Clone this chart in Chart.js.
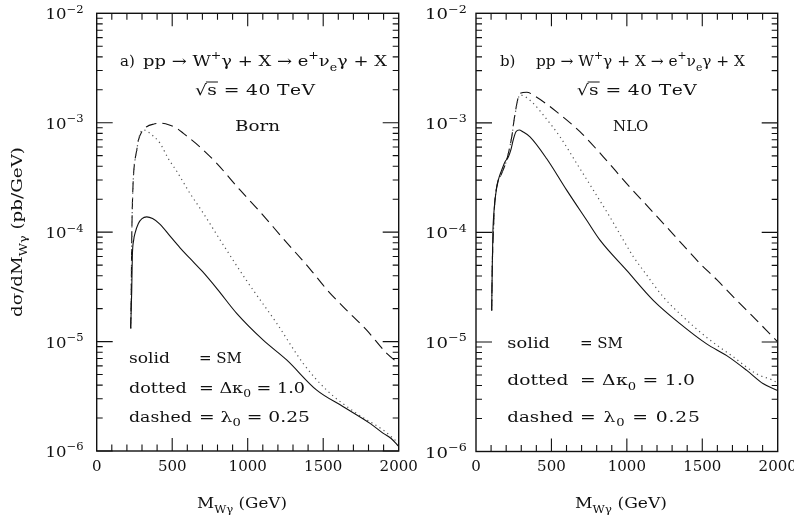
<!DOCTYPE html>
<html>
<head>
<meta charset="utf-8">
<script src="https://cdn.jsdelivr.net/npm/chart.js@4.4.0/dist/chart.umd.min.js"></script>
<style>
  html, body { margin: 0; padding: 0; background: #fff; }
  #wrap { position: relative; width: 794px; height: 523px; overflow: hidden; background: #fff; }
  #wrap canvas { position: absolute; left: 0; top: 0; }
</style>
</head>
<body>
<div id="wrap">
  <canvas id="bornChart" width="794" height="523"></canvas>
  <canvas id="nloChart" width="794" height="523"></canvas>
</div>
<script>
// ── spectra, [M_Wγ (GeV), dσ/dM (pb/GeV)] ──
const bornSM = [[225,1.32e-5],[232,2.95e-5],[236,6.0e-5],[245,8.5e-5],[254,9.8e-5],[276,1.2e-4],[300,1.33e-4],[331,1.38e-4],[370,1.33e-4],[420,1.18e-4],[486,9.2e-5],[552,7.2e-5],[618,5.75e-5],[700,4.37e-5],[800,3.0e-5],[927,1.81e-5],[1103,1.03e-5],[1258,6.8e-6],[1457,3.6e-6],[1633,2.54e-6],[1810,1.79e-6],[1898,1.45e-6],[1950,1.3e-6],[2000,1.1e-6]];
const bornKappa = [[225,1.32e-5],[229,3e-5],[232,8.5e-5],[236,1.7e-4],[243,3.2e-4],[254,4.6e-4],[265,5.6e-4],[276,6.9e-4],[292,8.2e-4],[309,8.6e-4],[353,8.0e-4],[419,6.5e-4],[474,4.7e-4],[530,3.6e-4],[618,2.26e-4],[706,1.49e-4],[817,8.5e-5],[993,3.6e-5],[1192,1.47e-5],[1368,6.3e-6],[1523,3.6e-6],[1722,2.2e-6],[1898,1.55e-6],[2000,1.18e-6]];
const bornLambda = [[225,1.32e-5],[229,3e-5],[232,8.5e-5],[236,1.7e-4],[243,3.2e-4],[254,4.6e-4],[265,5.6e-4],[276,6.9e-4],[300,8.3e-4],[331,9.2e-4],[375,9.7e-4],[430,9.9e-4],[486,9.5e-4],[530,8.9e-4],[574,8.0e-4],[684,6.0e-4],[795,4.25e-4],[949,2.43e-4],[1081,1.54e-4],[1236,8.7e-5],[1413,4.6e-5],[1523,3.0e-5],[1633,2.08e-5],[1788,1.27e-5],[1921,7.8e-6],[2000,6.3e-6]];

const nloSM = [[104,1.94e-5],[108,5e-5],[112,1e-4],[120,1.6e-4],[130,2.2e-4],[148,3.0e-4],[170,3.7e-4],[192,4.4e-4],[215,4.9e-4],[230,5.6e-4],[247,7.0e-4],[265,8.3e-4],[287,8.6e-4],[310,8.3e-4],[358,7.45e-4],[469,4.7e-4],[601,2.43e-4],[734,1.29e-4],[822,8.5e-5],[999,4.5e-5],[1175,2.4e-5],[1352,1.47e-5],[1529,9.6e-6],[1662,7.5e-6],[1795,5.5e-6],[1905,4.15e-6],[2000,3.6e-6]];
const nloKappa = [[104,1.94e-5],[108,5e-5],[115,9.75e-5],[121,1.59e-4],[137,2.6e-4],[170,3.44e-4],[203,4.56e-4],[237,7.45e-4],[259,1.2e-3],[292,1.8e-3],[320,1.75e-3],[369,1.56e-3],[457,1.13e-3],[557,7.45e-4],[668,4.25e-4],[778,2.43e-4],[888,1.38e-4],[977,8.5e-5],[1043,6.0e-5],[1109,4.5e-5],[1242,2.57e-5],[1374,1.69e-5],[1529,1.1e-5],[1706,7.3e-6],[1861,5.1e-6],[1971,4.45e-6],[2000,4.2e-6]];
const nloLambda = [[104,1.94e-5],[108,5e-5],[115,9.75e-5],[121,1.59e-4],[137,2.6e-4],[170,3.44e-4],[203,4.56e-4],[237,7.45e-4],[259,1.22e-3],[292,1.86e-3],[336,1.9e-3],[400,1.72e-3],[535,1.26e-3],[689,8.3e-4],[844,4.9e-4],[999,2.79e-4],[1153,1.64e-4],[1308,9.6e-5],[1485,5.2e-5],[1596,3.7e-5],[1728,2.4e-5],[1838,1.69e-5],[1927,1.27e-5],[2000,1.0e-5]];

// axis ticks
const massTicks = [0, 500, 1000, 1500, 2000];
const decadeExps = [-6, -5, -4, -3, -2];

const FONT = 'DejaVu Serif';
const INK = '#111';

// text pieces are 'text' or ['text', 'sup'|'sub'].
// With `fit` the run is widened to that many px: glyphs stretch up to 1.25x, the rest goes to spacing.
// A run that is already wider than `fit` is drawn as is.
function drawRich(ctx, parts, x, y, size, align = 'left', fit = 0) {
  const glyphs = [];
  parts.forEach(p => {
    const [t, k] = typeof p === 'string' ? [p, ''] : p;
    const s = k ? size * 0.7 : size;
    ctx.font = `${s}px "${FONT}"`;
    Array.from(t).forEach(ch => glyphs.push({ ch, k, s, w: ctx.measureText(ch).width }));
  });
  const natural = glyphs.reduce((a, g) => a + g.w, 0);
  let sx = 1, extra = 0;
  if (fit > natural) {
    sx = Math.min(fit / natural, 1.25);
    if (glyphs.length > 1) extra = (fit - natural * sx) / (glyphs.length - 1);
  }
  const total = natural * sx + extra * Math.max(glyphs.length - 1, 0);
  let cx = align === 'center' ? x - total / 2 : align === 'right' ? x - total : x;
  ctx.textAlign = 'left';
  ctx.textBaseline = 'alphabetic';
  glyphs.forEach(g => {
    ctx.font = `${g.s}px "${FONT}"`;
    const dy = g.k === 'sup' ? -size * 0.44 : g.k === 'sub' ? size * 0.3 : 0;
    ctx.save();
    ctx.translate(cx, y + dy);
    ctx.scale(sx, 1);
    ctx.fillText(g.ch, 0, 0);
    ctx.restore();
    g.x = cx;
    g.w *= sx;
    cx += g.w + extra;
  });
  return glyphs;
}

// frame, inward ticks, tick labels and annotations
function decoPlugin(spec) {
  return {
    id: 'deco',
    afterDraw(chart) {
      const ctx = chart.ctx;
      const { left, right, top, bottom } = chart.chartArea;
      const xs = chart.scales.x, ys = chart.scales.y;
      ctx.save();
      ctx.strokeStyle = INK;
      ctx.fillStyle = INK;

      ctx.lineWidth = 1.4;
      ctx.strokeRect(left, top, right - left, bottom - top);

      ctx.lineWidth = 1.1;
      ctx.beginPath();
      for (let v = 100; v < 2000; v += 100) {
        const px = xs.getPixelForValue(v);
        const len = v % 500 === 0 ? 13 : 6.5;
        ctx.moveTo(px, bottom); ctx.lineTo(px, bottom - len);
        ctx.moveTo(px, top); ctx.lineTo(px, top + len);
      }
      for (let e = -6; e < -2; e++) {
        for (let m = 1; m <= 9; m++) {
          const py = ys.getPixelForValue(m * Math.pow(10, e));
          const len = m === 1 ? 16 : 6;
          ctx.moveTo(left, py); ctx.lineTo(left + len, py);
          ctx.moveTo(right, py); ctx.lineTo(right - len, py);
        }
      }
      ctx.stroke();

      const w = (a) => a[1] - a[0];

      // x tick labels
      massTicks.forEach(v => drawRich(ctx, [String(v)], xs.getPixelForValue(v), 471, 15, 'center', String(v).length * 9.2));

      // y tick labels, 10 with raised exponent
      decadeExps.forEach(e => {
        const py = ys.getPixelForValue(Math.pow(10, e));
        drawRich(ctx, ['10', ['\u2212' + Math.abs(e), 'sup']], spec.yLabelRight, py + 6, 15, 'right', spec.yLabelW);
      });

      // process line
      drawRich(ctx, [spec.tag], spec.tagX, 66, 15);
      drawRich(ctx, ['pp \u2192 W', ['+', 'sup'], '\u03b3 + X \u2192 e', ['+', 'sup'], '\u03bd', ['e', 'sub'], '\u03b3 + X'],
        spec.procX[0], 66, 15, 'left', w(spec.procX));

      // √s line, with the radical bar drawn over s
      const g = drawRich(ctx, ['\u221as = 40 TeV'], spec.rootX[0], 95, 15, 'left', w(spec.rootX));
      ctx.lineWidth = 1;
      ctx.beginPath();
      ctx.moveTo(g[0].x + g[0].w - 1, 82); ctx.lineTo(g[1].x + g[1].w + 1, 82);
      ctx.stroke();

      drawRich(ctx, [spec.order], spec.orderX[0], 130.5, 15, 'left', w(spec.orderX));

      // line-style key
      const k = spec.key;
      drawRich(ctx, ['solid'], k.x, k.y[0], 15, 'left', k.solid);
      drawRich(ctx, ['= SM'], k.eq, k.y[0], 15, 'left', k.ends[0] - k.eq);
      drawRich(ctx, ['dotted'], k.x, k.y[1], 15, 'left', k.dotted);
      drawRich(ctx, ['= \u0394\u03ba', ['0', 'sub'], ' = 1.0'], k.eq, k.y[1], 15, 'left', k.ends[1] - k.eq);
      drawRich(ctx, ['dashed'], k.x, k.y[2], 15, 'left', k.dashed);
      drawRich(ctx, ['= \u03bb', ['0', 'sub'], ' = 0.25'], k.eq, k.y[2], 15, 'left', k.ends[2] - k.eq);

      // axis titles
      drawRich(ctx, ['M', ['W\u03b3', 'sub'], ' (GeV)'], spec.xTitle[0], 508, 15, 'left', w(spec.xTitle));
      if (spec.yTitle) {
        ctx.save();
        ctx.translate(22, 232);
        ctx.rotate(-Math.PI / 2);
        drawRich(ctx, ['d\u03c3/dM', ['W\u03b3', 'sub'], ' (pb/GeV)'], 0, 0, 15, 'center', 170);
        ctx.restore();
      }
      ctx.restore();
    }
  };
}

function toPoints(pairs) {
  return pairs.map(([x, y]) => ({ x, y }));
}

function curve(pairs, style) {
  const base = {
    data: toPoints(pairs),
    borderColor: INK,
    borderWidth: 1.1,
    pointRadius: 0,
    fill: false,
    cubicInterpolationMode: 'monotone'
  };
  if (style === 'dotted') return { ...base, borderColor: '#555', borderDash: [1.2, 3.6], borderWidth: 1.2 };
  if (style === 'dashed') return { ...base, borderDash: [11, 6] };
  return base;
}

function makePanel(id, area, series, spec) {
  return new Chart(document.getElementById(id), {
    type: 'line',
    data: {
      datasets: [
        curve(series[0], 'solid'),
        curve(series[1], 'dotted'),
        curve(series[2], 'dashed')
      ]
    },
    options: {
      responsive: false,
      animation: false,
      events: [],
      layout: {
        padding: { left: area.left, right: 794 - area.right, top: area.top, bottom: 523 - area.bottom }
      },
      plugins: { legend: { display: false }, tooltip: { enabled: false } },
      scales: {
        x: { type: 'linear', min: 0, max: 2000, display: false },
        y: { type: 'logarithmic', min: 1e-6, max: 1e-2, display: false }
      }
    },
    plugins: [decoPlugin(spec)]
  });
}

makePanel('bornChart', { left: 96.7, right: 398.7, top: 13.3, bottom: 451 },
  [bornSM, bornKappa, bornLambda],
  {
    tag: 'a)', tagX: 120, procX: [143, 387], rootX: [195, 315], order: 'Born', orderX: [235, 280],
    key: { x: 129, y: [363, 392.5, 421.5], solid: 41, dotted: 57.7, dashed: 62.7,
           eq: 199, ends: [236, 305, 310] },
    xTitle: [197, 287], yLabelRight: 83.5, yLabelW: 38, yTitle: true
  });

makePanel('nloChart', { left: 476, right: 777.7, top: 13.3, bottom: 451.5 },
  [nloSM, nloKappa, nloLambda],
  {
    tag: 'b)', tagX: 500, procX: [536, 745], rootX: [576.7, 696.7], order: 'NLO', orderX: [613, 648],
    key: { x: 507.3, y: [348, 385, 421.5], solid: 42.7, dotted: 61, dashed: 66,
           eq: 580, ends: [620, 695, 700] },
    xTitle: [575, 667], yLabelRight: 466.7, yLabelW: 41.7, yTitle: false
  });
</script>
</body>
</html>
